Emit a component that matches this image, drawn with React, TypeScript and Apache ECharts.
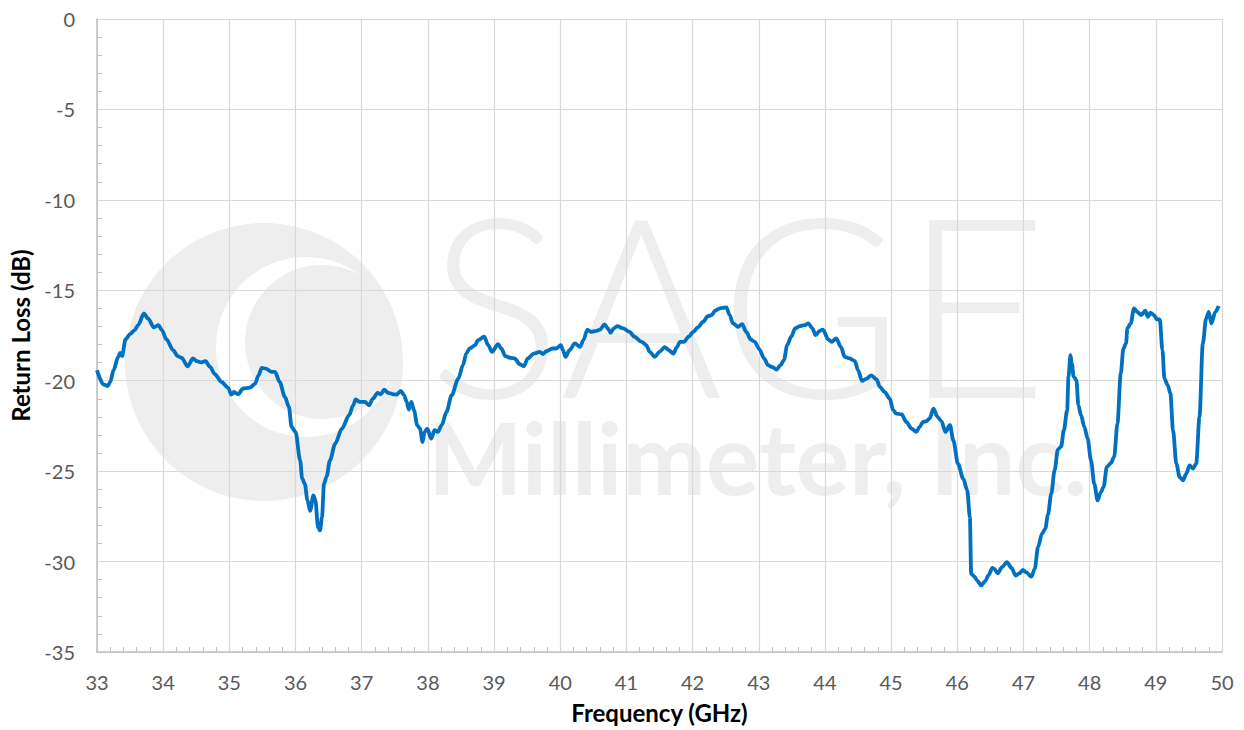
import React, { useEffect, useRef } from "react";
import * as echarts from "echarts";

const frequencyGHz = [
  33.0, 33.095, 33.16, 33.2, 33.25, 33.32, 33.35, 33.38, 33.43, 33.5, 33.57, 33.62, 33.71, 33.77, 33.86, 33.93, 33.98,
  34.05, 34.15, 34.22, 34.28, 34.37, 34.45, 34.51, 34.57, 34.64, 34.71, 34.78, 34.88, 34.98,
  35.03, 35.07, 35.13, 35.21, 35.31, 35.39, 35.44, 35.49, 35.55, 35.64, 35.69, 35.76, 35.84, 35.9, 35.94,
  36.0, 36.07, 36.1, 36.14, 36.18, 36.22, 36.27, 36.3, 36.34, 36.37, 36.4, 36.43, 36.47, 36.52, 36.6, 36.7, 36.81, 36.87, 36.91, 36.97,
  37.05, 37.11, 37.17, 37.24, 37.29, 37.34, 37.4, 37.48, 37.53, 37.59, 37.64, 37.68, 37.71, 37.75, 37.79, 37.84, 37.88, 37.92, 37.95, 37.99,
  38.05, 38.1, 38.15, 38.21, 38.28, 38.36, 38.46, 38.53, 38.58, 38.63, 38.71, 38.76, 38.85, 38.91, 38.97,
  39.06, 39.11, 39.17, 39.25, 39.31, 39.39, 39.45, 39.51, 39.6, 39.69, 39.74, 39.79, 39.88, 39.94,
  40.01, 40.04, 40.08, 40.14, 40.22, 40.3, 40.35, 40.41, 40.46, 40.55, 40.6, 40.67, 40.72, 40.76, 40.81, 40.86, 40.95,
  41.05, 41.12, 41.23, 41.3, 41.35, 41.43, 41.5, 41.58, 41.64, 41.71, 41.76, 41.81, 41.87, 41.94,
  42.01, 42.08, 42.16, 42.23, 42.29, 42.34, 42.41, 42.51, 42.56, 42.61, 42.69, 42.75, 42.81, 42.88, 42.94,
  43.01, 43.08, 43.14, 43.2, 43.27, 43.33, 43.38, 43.43, 43.49, 43.55, 43.62, 43.69, 43.75, 43.81, 43.86, 43.92, 43.97,
  44.05, 44.1, 44.17, 44.24, 44.3, 44.37, 44.45, 44.5, 44.56, 44.63, 44.7, 44.78, 44.83, 44.9, 44.98,
  45.03, 45.08, 45.16, 45.23, 45.31, 45.38, 45.43, 45.48, 45.53, 45.58, 45.64, 45.7, 45.76, 45.82, 45.89, 45.94,
  46.01, 46.09, 46.15, 46.19, 46.21, 46.26, 46.3, 46.36, 46.42, 46.47, 46.53, 46.56, 46.61, 46.68, 46.75, 46.82, 46.88, 46.94, 46.99,
  47.04, 47.12, 47.17, 47.22, 47.28, 47.33, 47.37, 47.42, 47.47, 47.52, 47.57, 47.61, 47.66, 47.68, 47.71, 47.73, 47.76, 47.8, 47.83, 47.87, 47.92, 47.97,
  48.02, 48.07, 48.12, 48.17, 48.21, 48.26, 48.32, 48.37, 48.42, 48.47, 48.51, 48.55, 48.57, 48.62, 48.67, 48.72, 48.78, 48.84, 48.88, 48.92, 48.97,
  49.02, 49.06, 49.1, 49.13, 49.18, 49.22, 49.26, 49.31, 49.36, 49.41, 49.46, 49.51, 49.56, 49.61, 49.66, 49.71, 49.76, 49.8, 49.84, 49.9, 49.95,
];

const returnLossDb = [
  -19.42, -20.2, -20.3, -20.07, -19.42, -18.68, -18.46, -18.64, -17.72, -17.42, -17.2, -16.93, -16.28, -16.56, -17.05, -16.93, -17.2,
  -17.72, -18.31, -18.64, -18.74, -19.2, -18.77, -18.92, -18.99, -18.92, -19.24, -19.64, -20.07, -20.38,
  -20.77, -20.62, -20.75, -20.43, -20.38, -20.16, -19.7, -19.29, -19.33, -19.51, -19.51, -20.07, -20.9, -21.45, -22.56,
  -22.83, -24.4, -25.4, -25.7, -26.6, -27.2, -26.34, -26.6, -28.1, -28.28, -27.54, -25.7, -25.3, -24.4, -23.48, -22.65, -21.91, -21.36, -21.04, -21.17,
  -21.17, -21.36, -20.99, -20.67, -20.75, -20.49, -20.67, -20.75, -20.77, -20.56, -20.8, -21.17, -21.6, -21.17, -21.63, -22.46, -22.65, -23.39, -22.83, -22.65,
  -23.2, -22.74, -22.83, -22.46, -21.73, -20.8, -19.88, -19.14, -18.5, -18.22, -18.05, -17.76, -17.57, -18.03, -18.4,
  -17.98, -18.22, -18.64, -18.74, -18.77, -19.09, -19.2, -18.77, -18.5, -18.4, -18.53, -18.37, -18.22, -18.22,
  -18.03, -18.31, -18.68, -18.31, -17.94, -18.13, -17.76, -17.17, -17.3, -17.24, -17.17, -16.89, -17.11, -17.35, -17.11, -16.98, -17.11,
  -17.3, -17.57, -17.85, -18.03, -18.4, -18.68, -18.4, -18.14, -18.31, -18.5, -18.16, -17.85, -17.85, -17.57,
  -17.3, -17.05, -16.74, -16.43, -16.37, -16.13, -16.0, -15.95, -16.37, -16.83, -17.02, -16.87, -17.3, -17.72, -17.85,
  -18.27, -18.77, -19.14, -19.24, -19.38, -19.14, -18.86, -18.03, -17.57, -17.11, -16.98, -16.93, -16.83, -17.11, -17.48, -17.24, -17.17,
  -17.72, -17.85, -17.66, -18.13, -18.68, -18.77, -18.9, -19.42, -20.01, -19.88, -19.7, -19.93, -20.34, -20.62, -20.99,
  -21.63, -21.82, -21.86, -22.28, -22.65, -22.83, -22.56, -22.28, -22.24, -22.1, -21.54, -22.0, -22.23, -22.83, -22.46, -23.3,
  -24.59, -25.42, -26.06, -27.54, -30.68, -30.83, -31.05, -31.32, -31.09, -30.77, -30.35, -30.4, -30.65, -30.3, -30.03, -30.35, -30.77, -30.65, -30.46,
  -30.59, -30.83, -30.4, -29.2, -28.46, -28.18, -27.4, -26.25, -24.96, -23.81, -23.63, -22.74, -21.63, -19.79, -18.59, -19.05, -19.79, -19.97, -21.36, -21.91, -22.56, -23.2,
  -24.4, -25.7, -26.62, -26.16, -25.88, -24.77, -24.55, -24.22, -22.37, -19.6, -18.22, -17.94, -17.11, -16.83, -16.0, -16.19, -16.37, -16.13, -16.47, -16.24, -16.37,
  -16.61, -16.61, -18.31, -19.88, -20.25, -20.71, -22.74, -24.59, -25.33, -25.51, -25.14, -24.68, -24.86, -24.59, -22.0, -17.94, -16.56, -16.19, -16.83, -16.19, -15.87,
];

const xAxisTitle = "Frequency (GHz)";
const yAxisTitle = "Return Loss (dB)";
const watermarkTitle = "SAGE";
const watermarkSubtitle = "Millimeter, Inc.";

const FONT = "Lato, 'Open Sans', sans-serif";
const WM = "#EEEEEE";

export default function App() {
  const ref = useRef<HTMLDivElement>(null);

  useEffect(() => {
    document.body.style.margin = "0";
    if (!ref.current) return;
    const chart = echarts.init(ref.current, undefined, { renderer: "svg" });
    const data = frequencyGHz.map((f, i) => [f, returnLossDb[i]]);

    chart.setOption({
      animation: false,
      backgroundColor: "#FFFFFF",
      grid: { left: 97, right: 22, top: 19, bottom: 78 },
      graphic: [
        { type: "circle", z: -10, silent: true, shape: { cx: 264, cy: 362, r: 139 }, style: { fill: WM } },
        { type: "circle", z: -9, silent: true, shape: { cx: 306, cy: 347, r: 90 }, style: { fill: "#FFFFFF" } },
        { type: "circle", z: -8, silent: true, shape: { cx: 322, cy: 342, r: 77 }, style: { fill: WM } },
        {
          type: "text",
          z: -8,
          silent: true,
          x: 428,
          y: 301,
          style: {
            text: watermarkTitle,
            fill: WM,
            font: `300 250px ${FONT}`,
            lineHeight: 180,
            verticalAlign: "middle",
            align: "left",
          },
        },
        {
          type: "text",
          z: -8,
          silent: true,
          x: 428,
          y: 456,
          style: {
            text: watermarkSubtitle,
            fill: WM,
            font: `bold 100px ${FONT}`,
            lineHeight: 80,
            verticalAlign: "middle",
            align: "left",
          },
        },
      ],
      xAxis: {
        type: "value",
        min: 33,
        max: 50,
        interval: 1,
        z: 5,
        name: xAxisTitle,
        nameLocation: "middle",
        nameGap: 48,
        nameTextStyle: { fontFamily: FONT, fontSize: 24, fontWeight: "bold", color: "#000000" },
        axisLine: { show: true, onZero: false, lineStyle: { color: "#BFBFBF", width: 1.5 } },
        axisTick: { show: false, inside: true },
        minorTick: { show: true, splitNumber: 5, length: 5, lineStyle: { color: "#BFBFBF", width: 1 } },
        axisLabel: { fontFamily: FONT, fontSize: 20, color: "#595959", margin: 20 },
        splitLine: { show: true, lineStyle: { color: "#D9D9D9", width: 1.2 } },
      },
      yAxis: {
        type: "value",
        min: -35,
        max: 0,
        interval: 5,
        z: 5,
        name: yAxisTitle,
        nameLocation: "middle",
        nameGap: 65,
        nameRotate: 90,
        nameTextStyle: { fontFamily: FONT, fontSize: 24, fontWeight: "bold", color: "#000000" },
        axisLine: { show: true, onZero: false, lineStyle: { color: "#BFBFBF", width: 1.5 } },
        axisTick: { show: false, inside: true },
        minorTick: { show: true, splitNumber: 5, length: 5, lineStyle: { color: "#BFBFBF", width: 1 } },
        axisLabel: { fontFamily: FONT, fontSize: 20, color: "#595959", margin: 22 },
        splitLine: { show: true, lineStyle: { color: "#D9D9D9", width: 1.2 } },
      },
      series: [
        {
          type: "line",
          data,
          z: 10,
          showSymbol: false,
          smooth: 0.3,
          smoothMonotone: "x",
          lineStyle: { color: "#0070C0", width: 3.8 },
        },
      ],
    });

    return () => chart.dispose();
  }, []);

  return <div ref={ref} style={{ width: 1244, height: 730 }} />;
}
